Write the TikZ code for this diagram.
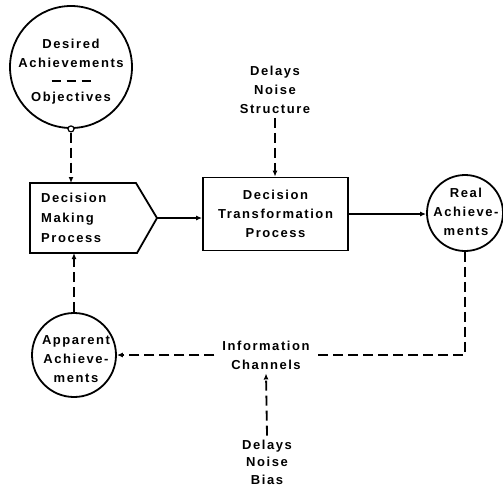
\documentclass[tikz,border=0pt]{standalone}
\usepackage{fontspec}
\setmainfont{Liberation Sans}[LetterSpace=12]
\usetikzlibrary{arrows.meta}
\begin{document}
\begin{tikzpicture}[x=1pt,y=-1pt,
  lbl/.style={font=\bfseries\fontsize{13}{19}\selectfont, align=center, inner sep=0pt},
  dline/.style={line width=1.8pt, dash pattern=on 10pt off 5pt},
  sline/.style={line width=1.8pt},
  arr/.style={-{Latex[length=6pt,width=5pt]}},
  ring/.style={draw, sline, circle, inner sep=0pt},
]
\useasboundingbox (0,0) rectangle (503,488);

% Desired achievements
\node[ring, minimum size=122pt] (desired) at (71,67) {};
\node[lbl] (desiredtxt) at (71,72) {Desired\\Achievements\\[-2pt]\raisebox{3pt}{\rule{9pt}{1.6pt}\hspace{6pt}\rule{9pt}{1.6pt}\hspace{6pt}\rule{9pt}{1.6pt}}\\[-2pt]Objectives};
\node[circle, draw, fill=white, line width=1.2pt, inner sep=0pt, minimum size=6pt] (knob) at (desired.south) {};

% Decision making process (pentagon)
\coordinate (dmpNW) at (30,183);
\coordinate (dmpNE) at (136,183);
\coordinate (dmpTip) at (157,218);
\coordinate (dmpSE) at (137,253);
\coordinate (dmpSW) at (30,253);
\draw[sline, line join=miter] (dmpNW) -- (dmpNE) -- (dmpTip) -- (dmpSE) -- (dmpSW) -- cycle;
\node[lbl, align=left, anchor=west, font=\bfseries\fontsize{13}{20}\selectfont] (dmp) at (41,218) {Decision\\Making\\Process};

% Decision transformation process
\node[draw, sline, minimum width=145pt, minimum height=73pt, lbl] (dtp) at (275.5,214) {Decision\\Transformation\\Process};
\node[lbl, inner sep=4pt] (dns) at (275,90) {Delays\\Noise\\Structure};

% Real achievements
\node[ring, minimum size=76pt] (real) at (465,213) {};
\node[lbl] (realtxt) at (466,212) {Real\\Achieve-\\ments};

% Apparent achievements
\node[ring, minimum size=84pt] (apparent) at (74,355) {};
\node[lbl] (apptxt) at (76,359) {Apparent\\Achieve-\\ments};

% Information channels
\node[lbl, inner xsep=8pt, inner ysep=4pt] (info) at (266,355) {Information\\Channels};
\node[lbl, inner sep=4pt, font=\bfseries\fontsize{13}{17.5}\selectfont] (dnb) at (267,462) {Delays\\Noise\\Bias};

% connectors
\draw[dline, arr] (knob.south) -- (knob.south |- dmpNW);
\draw[sline, arr] (dmpTip) -- (dmpTip -| dtp.west);
\draw[dline, arr] (dns.south) -- (dns.south |- dtp.north);
\draw[sline, arr] (dtp.east) -- (dtp.east -| real.west);
\draw[dline] (real.south) |- (info.east);
\draw[dline, arr] (info.west) -- (apparent.east);
\draw[dline, arr] (apparent.north) -- (apparent.north |- dmpSW);
\draw[dline, arr] (dnb.north) -- (info.south);
\end{tikzpicture}
\end{document}
